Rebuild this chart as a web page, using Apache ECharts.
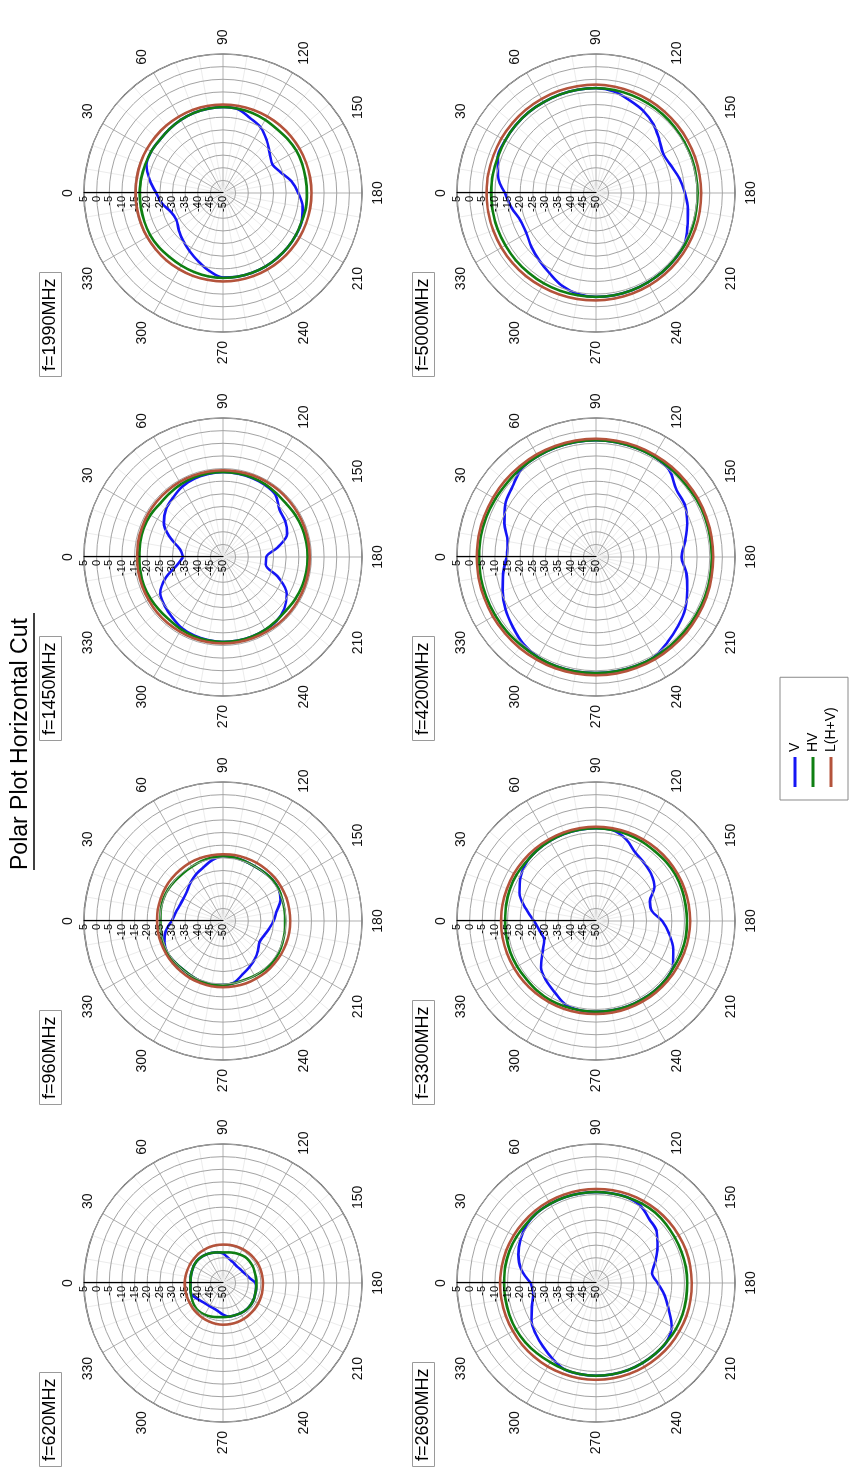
<!DOCTYPE html>
<html><head><meta charset="utf-8">
<script src="https://cdn.jsdelivr.net/npm/echarts@6/dist/echarts.min.js"></script>
<style>
html,body{margin:0;padding:0;width:849px;height:1470px;overflow:hidden;background:#fff}
#wrap{position:absolute;left:0;top:1470px;width:1470px;height:849px;transform-origin:0 0;transform:rotate(-90deg);background:#fff}
#chart{width:1470px;height:849px}
</style></head><body>
<div id="wrap"><div id="chart"></div></div>
<script>
// angles (degrees) at which values were read
const ANGLES = [0,10,20,30,40,50,60,70,80,90,100,110,120,130,140,150,160,170,180,190,200,210,220,230,240,250,260,270,280,290,300,310,320,330,340,350];
const FREQS = ['f=620MHz','f=960MHz','f=1450MHz','f=1990MHz','f=2690MHz','f=3300MHz','f=4200MHz','f=5000MHz'];
const SERIES_NAMES = ['V','HV','L(H+V)'];
const R_MIN = -50, R_MAX = 5, R_STEP = 5;

// ---- values in dB ----
const V620  = [-37.1,-37.0,-36.8,-36.6,-36.5,-36.6,-36.9,-37.3,-37.7,-38.3,-39.7,-40.6,-41.1,-41.4,-41.3,-41.0,-40.3,-39.2,-37.2,-36.7,-36.5,-36.2,-36.0,-36.0,-36.2,-36.4,-36.5,-37.5,-38.7,-39.3,-39.4,-39.3,-38.8,-37.9,-36.7,-36.9];
const HV620 = [-37.1,-37.0,-36.8,-36.6,-36.5,-36.6,-36.9,-37.3,-37.7,-37.9,-37.7,-37.3,-36.9,-36.5,-36.4,-36.5,-36.7,-36.8,-36.8,-36.7,-36.5,-36.2,-36.0,-36.0,-36.2,-36.4,-36.5,-36.5,-36.3,-35.9,-35.5,-35.3,-35.5,-36.0,-36.5,-36.9];
const L620  = [-34.8,-34.9,-35.0,-35.0,-35.0,-34.9,-34.9,-34.8,-34.8,-34.8,-34.7,-34.6,-34.5,-34.4,-34.3,-34.2,-34.2,-34.2,-34.2,-34.1,-34.0,-33.9,-33.8,-33.7,-33.6,-33.5,-33.5,-33.5,-33.6,-33.8,-34.0,-34.2,-34.4,-34.6,-34.7,-34.8];

const V960  = [-29.7,-31.0,-31.8,-32.0,-31.5,-30.1,-28.7,-27.4,-25.5,-24.4,-24.5,-24.8,-25.0,-24.8,-24.5,-24.6,-25.8,-28.5,-30.0,-31.6,-32.8,-33.3,-31.9,-30.4,-29.0,-27.5,-25.2,-24.7,-24.5,-24.6,-24.9,-25.1,-24.9,-24.6,-25.3,-27.0];
const HV960 = [-25.2,-25.0,-24.8,-24.9,-25.2,-25.4,-25.2,-24.8,-24.5,-24.4,-24.5,-24.8,-25.0,-24.8,-24.5,-24.6,-25.0,-25.3,-25.4,-25.2,-24.9,-24.6,-24.5,-24.7,-25.0,-25.2,-25.0,-24.7,-24.5,-24.6,-24.9,-25.1,-24.9,-24.6,-24.8,-25.1];
const L960  = [-23.9,-23.8,-23.8,-23.7,-23.6,-23.6,-23.5,-23.5,-23.6,-23.6,-23.5,-23.5,-23.4,-23.4,-23.3,-23.3,-23.3,-23.4,-23.4,-23.4,-23.5,-23.5,-23.6,-23.6,-23.7,-23.7,-23.8,-23.8,-23.8,-23.9,-23.9,-24.0,-24.0,-24.0,-24.0,-23.9];

const V1450  = [-34.2,-32.8,-27.8,-23.0,-20.6,-19.3,-17.8,-17.0,-16.6,-16.4,-16.5,-16.7,-17.0,-17.8,-20.8,-21.6,-23.0,-28.0,-32.9,-32.8,-26.8,-20.9,-18.3,-17.0,-16.7,-16.5,-16.4,-16.4,-16.6,-16.9,-17.5,-18.8,-19.9,-21.3,-25.8,-31.5];
const HV1450 = [-16.8,-16.7,-16.6,-16.8,-17.3,-17.1,-16.7,-16.5,-16.4,-16.4,-16.4,-16.5,-16.7,-17.1,-17.3,-16.9,-16.6,-16.5,-16.5,-16.5,-16.6,-16.9,-17.3,-17.1,-16.7,-16.5,-16.4,-16.4,-16.5,-16.6,-16.9,-17.3,-17.2,-16.9,-16.7,-16.8];
const L1450  = [-16.0,-15.9,-15.9,-15.8,-15.8,-15.8,-15.7,-15.7,-15.7,-15.7,-15.7,-15.6,-15.6,-15.6,-15.7,-15.7,-15.7,-15.7,-15.7,-15.7,-15.7,-15.7,-15.7,-15.7,-15.8,-15.8,-15.8,-15.8,-15.8,-15.8,-15.9,-15.9,-15.9,-16.0,-16.0,-16.0];

const V1990  = [-23.6,-20.6,-17.8,-17.2,-17.3,-17.0,-16.6,-16.3,-16.1,-16.0,-16.3,-18.5,-20.1,-23.0,-25.8,-27.4,-25.8,-22.6,-20.2,-18.0,-16.9,-16.7,-16.6,-16.5,-16.4,-16.4,-16.4,-16.6,-18.7,-21.3,-23.5,-25.4,-27.2,-28.7,-28.1,-25.6];
const HV1990 = [-17.0,-17.1,-17.2,-17.2,-17.3,-17.0,-16.6,-16.3,-16.1,-16.0,-16.1,-16.3,-16.6,-16.9,-16.7,-16.5,-16.6,-16.8,-16.8,-16.7,-16.9,-16.7,-16.6,-16.5,-16.4,-16.4,-16.4,-16.4,-16.5,-16.7,-16.9,-17.0,-16.8,-16.7,-16.9,-17.0];
const L1990  = [-15.4,-15.4,-15.3,-15.2,-15.2,-15.1,-15.1,-15.0,-15.0,-15.0,-15.0,-15.0,-15.0,-15.0,-15.0,-15.0,-15.0,-15.0,-15.0,-15.0,-15.0,-15.0,-15.0,-15.0,-15.0,-15.0,-15.0,-15.0,-15.1,-15.1,-15.2,-15.2,-15.3,-15.3,-15.4,-15.4];

const V2690  = [-24.2,-20.0,-17.3,-15.5,-14.2,-13.7,-13.8,-13.9,-14.0,-14.0,-14.0,-13.9,-14.8,-17.1,-18.6,-21.9,-25.0,-27.5,-25.6,-22.5,-19.4,-15.4,-13.6,-13.5,-13.4,-13.3,-13.3,-13.3,-13.4,-13.6,-15.5,-17.3,-18.8,-20.5,-23.0,-24.8];
const HV2690 = [-13.6,-13.5,-13.5,-13.6,-13.8,-13.7,-13.8,-13.9,-14.0,-14.0,-14.0,-13.9,-13.7,-13.6,-13.8,-14.0,-14.0,-13.9,-13.9,-13.8,-13.6,-13.5,-13.6,-13.5,-13.4,-13.3,-13.3,-13.3,-13.4,-13.6,-13.8,-13.7,-13.5,-13.4,-13.5,-13.6];
const L2690  = [-12.0,-12.1,-12.2,-12.4,-12.5,-12.6,-12.7,-12.8,-12.8,-12.8,-12.7,-12.6,-12.5,-12.4,-12.3,-12.2,-12.1,-12.1,-12.1,-12.0,-11.9,-11.9,-11.8,-11.8,-11.7,-11.7,-11.7,-11.7,-11.7,-11.8,-11.8,-11.9,-11.9,-12.0,-12.0,-12.0];

const V3300  = [-25.5,-21.8,-17.8,-15.5,-14.0,-13.6,-13.4,-13.3,-13.3,-13.3,-13.4,-15.5,-18.8,-20.2,-21.4,-23.3,-27.3,-27.5,-23.8,-20.6,-17.5,-14.8,-14.0,-13.9,-14.0,-14.0,-14.1,-14.1,-14.1,-14.8,-17.4,-19.3,-21.6,-25.6,-28.2,-27.4];
const HV3300 = [-14.0,-13.9,-13.7,-13.6,-13.8,-13.6,-13.4,-13.3,-13.3,-13.3,-13.4,-13.5,-13.7,-13.9,-13.7,-13.6,-13.8,-14.0,-14.0,-13.9,-14.0,-14.2,-14.0,-13.9,-14.0,-14.0,-14.1,-14.1,-14.1,-14.0,-13.8,-13.9,-14.1,-14.0,-13.9,-14.0];
const L3300  = [-12.4,-12.4,-12.5,-12.5,-12.6,-12.6,-12.7,-12.7,-12.7,-12.7,-12.7,-12.7,-12.7,-12.7,-12.7,-12.7,-12.7,-12.7,-12.7,-12.8,-12.9,-13.0,-13.1,-13.1,-13.2,-13.2,-13.2,-13.2,-13.1,-13.0,-12.9,-12.8,-12.7,-12.6,-12.5,-12.4];

const V4200  = [-14.7,-14.5,-11.4,-8.5,-6.8,-4.3,-3.9,-3.8,-3.8,-3.8,-3.9,-4.0,-4.1,-5.0,-8.5,-9.3,-11.6,-14.2,-16.1,-13.7,-11.6,-9.2,-7.6,-6.0,-4.2,-4.1,-4.1,-4.1,-4.0,-4.0,-4.2,-5.2,-7.0,-8.6,-10.7,-12.7];
const HV4200 = [-3.7,-3.7,-3.8,-4.0,-4.2,-4.0,-3.9,-3.8,-3.8,-3.8,-3.9,-4.0,-4.1,-4.2,-4.4,-4.2,-4.1,-4.2,-4.2,-4.2,-4.1,-4.2,-4.3,-4.2,-4.1,-4.1,-4.1,-4.1,-4.0,-4.0,-4.1,-4.2,-4.0,-3.9,-3.8,-3.7];
const L4200  = [-2.8,-2.8,-2.9,-3.0,-3.0,-3.1,-3.1,-3.2,-3.2,-3.2,-3.3,-3.3,-3.4,-3.4,-3.5,-3.5,-3.6,-3.6,-3.6,-3.6,-3.5,-3.5,-3.4,-3.4,-3.3,-3.3,-3.2,-3.2,-3.2,-3.1,-3.1,-3.0,-3.0,-2.9,-2.9,-2.8];

const V5000  = [-14.0,-10.6,-8.7,-8.5,-8.4,-8.4,-8.5,-8.5,-8.5,-8.5,-9.2,-11.0,-12.5,-14.6,-17.3,-19.2,-18.4,-16.5,-14.8,-13.1,-11.5,-9.6,-9.3,-9.2,-9.1,-9.0,-8.9,-8.9,-9.4,-10.9,-13.3,-15.1,-16.7,-18.2,-18.2,-16.1];
const HV5000 = [-8.5,-8.5,-8.6,-8.5,-8.4,-8.4,-8.5,-8.5,-8.5,-8.5,-8.6,-8.8,-9.0,-9.2,-9.4,-9.6,-9.7,-9.8,-9.8,-9.7,-9.5,-9.3,-9.3,-9.2,-9.1,-9.0,-8.9,-8.9,-8.9,-8.8,-8.7,-8.7,-8.6,-8.6,-8.5,-8.5];
const L5000  = [-6.7,-6.7,-6.8,-6.8,-6.9,-6.9,-7.0,-7.0,-7.1,-7.1,-7.3,-7.5,-7.7,-7.9,-8.1,-8.2,-8.3,-8.4,-8.4,-8.3,-8.2,-8.1,-8.0,-7.9,-7.8,-7.7,-7.6,-7.5,-7.4,-7.3,-7.2,-7.0,-6.9,-6.8,-6.7,-6.7];

const PLOTS = [
  [V620, HV620, L620], [V960, HV960, L960], [V1450, HV1450, L1450], [V1990, HV1990, L1990],
  [V2690, HV2690, L2690], [V3300, HV3300, L3300], [V4200, HV4200, L4200], [V5000, HV5000, L5000]
];

// ---- layout / style (landscape page, rotated onto portrait) ----
const COL_X = [187, 549, 913, 1277];
const ROW_Y = [223, 596];
const RADIUS = 139;
const COLORS = {V: '#1515f5', HV: '#0f7f12', 'L(H+V)': '#b4533b'};
const FONT = 'Liberation Sans, Arial, sans-serif';

function toData(vals) {
  const d = vals.map((v, i) => [v, ANGLES[i]]);
  d.push([vals[0], 360]);
  return d;
}

const polar = [], angleAxis = [], radiusAxis = [], series = [], titles = [];
titles.push({
  text: 'Polar Plot Horizontal Cut', left: 600, top: 9, padding: 0,
  textStyle: {fontSize: 23, fontWeight: 'normal', color: '#000', fontFamily: FONT}
});
PLOTS.forEach((p, i) => {
  const cx = COL_X[i % 4], cy = ROW_Y[Math.floor(i / 4)];
  polar.push({center: [cx, cy], radius: [0, RADIUS]});
  angleAxis.push({
    polarIndex: i, type: 'value', min: 0, max: 360, interval: 30,
    startAngle: 90, clockwise: true,
    axisLine: {lineStyle: {color: '#555', width: 1.3}},
    axisTick: {show: false},
    minorTick: {show: false, splitNumber: 3},
    minorSplitLine: {show: true, lineStyle: {color: '#ececec', width: 1}},
    axisLabel: {margin: 9, fontSize: 14, color: '#111', fontFamily: FONT,
      formatter: v => (v >= 360 ? '' : String(v))},
    splitLine: {show: true, lineStyle: {color: '#b0b0b0', width: 1}}
  });
  radiusAxis.push({
    polarIndex: i, type: 'value', min: R_MIN, max: R_MAX, interval: R_STEP, z: 5,
    axisLine: {show: true, lineStyle: {color: '#000', width: 1.2}},
    axisTick: {show: false},
    axisLabel: {fontSize: 11, color: '#000', margin: 3, fontFamily: FONT,
      showMinLabel: true, showMaxLabel: true},
    splitLine: {show: true, lineStyle: {color: '#a3a3a3', width: 1}}
  });
  titles.push({
    text: FREQS[i], left: cx - 184, top: cy - 184,
    borderColor: '#9a9a9a', borderWidth: 1, padding: [2, 6, 2, 6],
    textStyle: {fontSize: 18, lineHeight: 19, fontWeight: 'normal', color: '#000', fontFamily: FONT}
  });
  const order = [2, 0, 1]; // brown first, then blue, green on top
  order.forEach(k => {
    const name = SERIES_NAMES[k];
    series.push({
      type: 'line', name, coordinateSystem: 'polar', polarIndex: i,
      data: toData(p[k]), showSymbol: false, smooth: 0.35, z: 3 + k,
      lineStyle: {width: 2.6, color: COLORS[name]}, itemStyle: {color: COLORS[name]},
      animation: false, silent: true
    });
  });
});

const chart = echarts.init(document.getElementById('chart'));
chart.setOption({
  backgroundColor: '#fff',
  animation: false,
  title: titles,
  polar, angleAxis, radiusAxis, series,
  legend: {
    data: SERIES_NAMES, orient: 'vertical', left: 670, top: 780,
    icon: 'rect', itemWidth: 30, itemHeight: 3, itemGap: 4,
    borderColor: '#8a8a8a', borderWidth: 1, padding: [8, 30, 10, 13],
    textStyle: {fontSize: 14, color: '#000', fontFamily: FONT}
  },
  graphic: [{
    type: 'line', shape: {x1: 600, y1: 34, x2: 857, y2: 34},
    style: {stroke: '#000', lineWidth: 1.5}
  }]
});
</script>
</body></html>
